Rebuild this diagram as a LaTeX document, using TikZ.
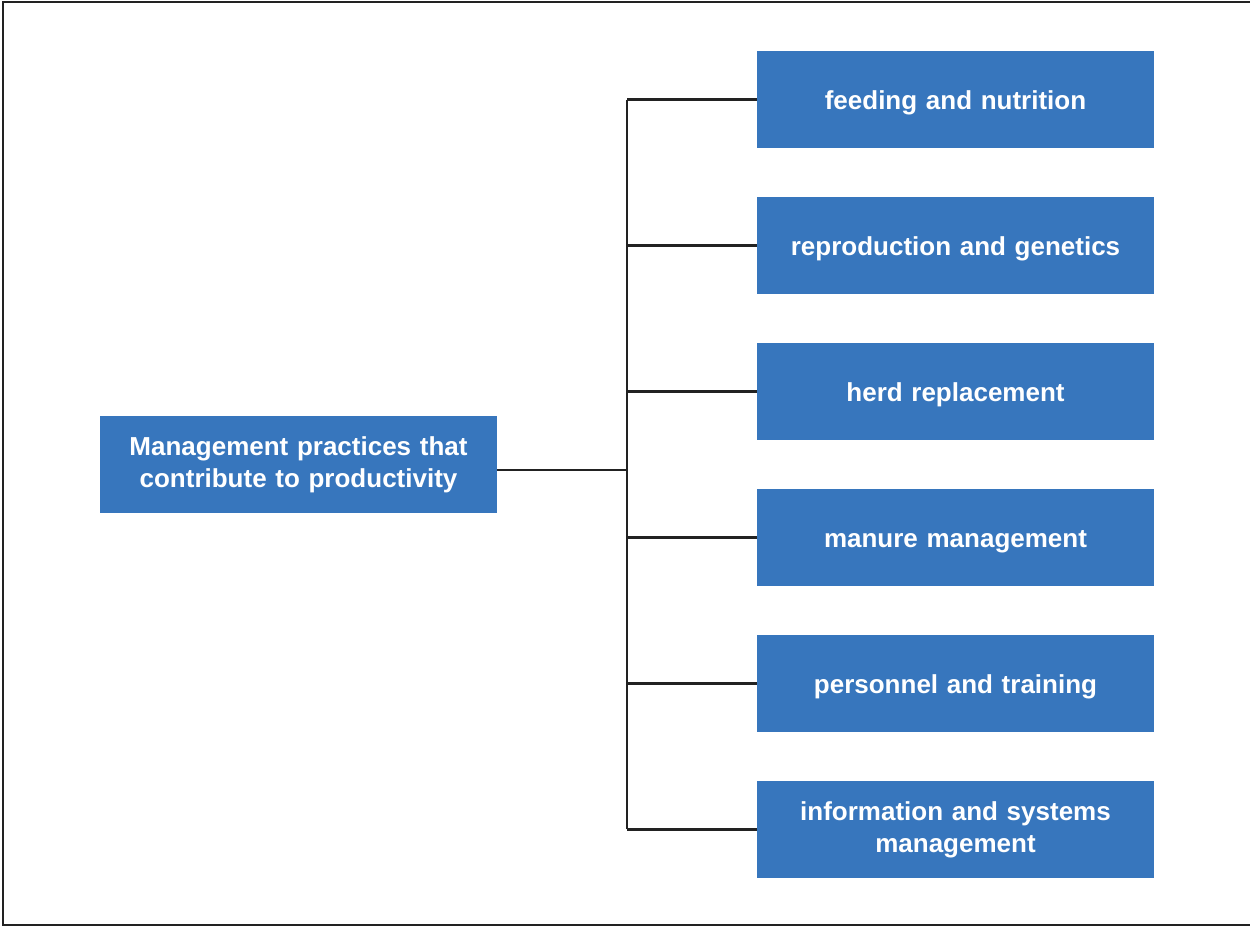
\documentclass[tikz,border=0pt]{standalone}
\usepackage{fontspec}
\setmainfont{Liberation Sans}
\begin{document}
\begin{tikzpicture}[x=1pt,y=-1pt,
  box/.style={fill=boxblue, draw=none, minimum width=397pt, minimum height=97pt, inner sep=0pt,
    text=white, font=\fontsize{26}{32}\selectfont\bfseries, align=center, text width=395pt},
  oneline/.style={text height=20pt, text depth=1pt},
  conn/.style={draw=linegray, line width=2.2pt}]
\definecolor{boxblue}{HTML}{3776BD}
\definecolor{linegray}{HTML}{222222}
\useasboundingbox (0,0) rectangle (1250,926);
\draw[line width=2pt, draw=linegray] (1250,2) -- (3,2) -- (3,925) -- (1250,925);
\node[box] (main) at (298.5,464.5) {Management practices that\\contribute to productivity};
\node[box, oneline] (b1) at (955.5,99.5) {feeding and nutrition};
\node[box, oneline] (b2) at (955.5,245.5) {reproduction and genetics};
\node[box, oneline] (b3) at (955.5,391.5) {herd replacement};
\node[box, oneline] (b4) at (955.5,537.5) {manure management};
\node[box, oneline] (b5) at (955.5,683.5) {personnel and training};
\node[box] (b6) at (955.5,829.5) {information and systems\\management};
\coordinate (j0) at (627,470);
\coordinate (t1) at (627,100);
\coordinate (t6) at (627,829);
\draw[conn] (main.east |- j0) -- (j0);
\draw[conn] (t1) -- (t6);
\foreach \i in {1,...,6} {
  \draw[conn] (b\i.west) -- (b\i.west -| j0);
}
\end{tikzpicture}
\end{document}
